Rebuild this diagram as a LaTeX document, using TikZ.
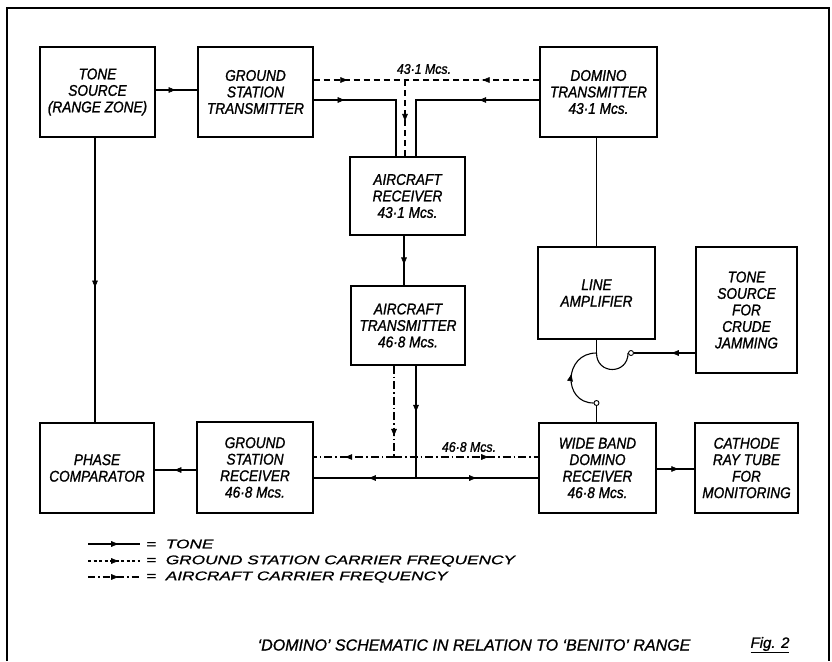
\documentclass[tikz,border=0pt]{standalone}
\usepackage{fontspec}
\setmainfont{Liberation Sans}
\newfontfamily\boxfont[FakeStretch=0.88,FakeBold=1.2]{Liberation Sans}
\newfontfamily\legfont[FakeStretch=1.38,FakeBold=1]{Liberation Sans}
\newfontfamily\titfont[FakeStretch=1.0,FakeBold=1]{Liberation Sans}
\usetikzlibrary{arrows.meta,decorations.markings}
\tikzset{
  blk/.style={draw, line width=1.4pt, align=center, inner sep=0pt,
    font=\boxfont\itshape\fontsize{15.5}{16.5}\selectfont},
  tone/.style={line width=1.1pt},
  gscar/.style={line width=1.1pt, dash pattern=on 6pt off 4pt},
  accar/.style={line width=1.1pt, dash pattern=on 8pt off 3pt on 1.5pt off 3pt},
  arrat/.style={postaction={decorate,decoration={markings,
    mark=at position #1 with {\arrow[line width=0.6pt]{Latex[length=8pt,width=6pt]}}}}},
  contact/.style={circle, draw, line width=0.9pt, fill=white, inner sep=0pt, minimum size=5pt},
  lbl/.style={font=\boxfont\itshape\fontsize{14}{15}\selectfont, inner sep=0pt},
  legtext/.style={font=\legfont\itshape\fontsize{12.5}{14}\selectfont, inner sep=0pt, anchor=west},
  frame/.style={line width=1.4pt}
}
\begin{document}
\begin{tikzpicture}[x=1pt,y=-1pt]
\useasboundingbox (0,0) rectangle (832,661);
\fill[white] (0,0) rectangle (832,661);
% frame
\coordinate (f1) at (7,661);
\coordinate (f2) at (7,8);
\coordinate (f3) at (829,8);
\coordinate (f4) at (829,661);
\draw[frame] (f1) -- (f2) -- (f3) -- (f4);

% boxes
\node[blk, minimum width=115pt, minimum height=90pt] (ts) at (97.5,92) {TONE\\SOURCE\\(RANGE ZONE)};
\node[blk, minimum width=115pt, minimum height=90pt] (gst) at (255.5,92) {GROUND\\STATION\\TRANSMITTER};
\node[blk, minimum width=117pt, minimum height=90pt] (dt) at (598.5,92) {DOMINO\\TRANSMITTER\\43·1 Mcs.};
\node[blk, minimum width=115pt, minimum height=78pt] (ar) at (407.5,196) {AIRCRAFT\\RECEIVER\\43·1 Mcs.};
\node[blk, minimum width=114pt, minimum height=79pt] (at) at (408,325.5) {AIRCRAFT\\TRANSMITTER\\46·8 Mcs.};
\node[blk, minimum width=117pt, minimum height=92pt] (la) at (596.5,293) {LINE\\AMPLIFIER};
\node[blk, minimum width=101pt, minimum height=126pt] (tsj) at (746.5,310) {TONE\\SOURCE\\FOR\\CRUDE\\JAMMING};
\node[blk, minimum width=114pt, minimum height=90pt] (pc) at (97,468) {PHASE\\COMPARATOR};
\node[blk, minimum width=116pt, minimum height=91pt] (gsr) at (255,467.5) {GROUND\\STATION\\RECEIVER\\46·8 Mcs.};
\node[blk, minimum width=117pt, minimum height=90pt] (wbr) at (597.5,468) {WIDE BAND\\DOMINO\\RECEIVER\\46·8 Mcs.};
\node[blk, minimum width=103pt, minimum height=90pt] (crt) at (746.5,468) {CATHODE\\RAY TUBE\\FOR\\MONITORING};

% top connections
\draw[tone,arrat=0.5] ([yshift=2pt]ts.east) -- ([yshift=2pt]ts.east -| gst.west);
\coordinate (jd) at (405,80);
\draw[gscar,arrat=0.38] (gst.east |- jd) -- (jd);
\draw[gscar,arrat=0.43] (dt.west |- jd) -- (jd);
\draw[gscar,arrat=0.55] (jd) -- (jd |- ar.north);
\coordinate (ja) at (396,100);
\coordinate (jb) at (416,100);
\draw[tone,arrat=0.23] (gst.east |- ja) -- (ja) -- (ja |- ar.north);
\draw[tone,arrat=0.34] (dt.west |- jb) -- (jb) -- (jb |- ar.north);
\node[lbl] (l431) at (424,69) {43·1 Mcs.};

% aircraft receiver to transmitter
\draw[tone,arrat=0.6] ([xshift=-3.5pt]ar.south) -- ([xshift=-3.5pt]ar.south |- at.north);

% aircraft transmitter outputs
\coordinate (jl) at (394,457);
\coordinate (jr) at (416,478);
\draw[accar,arrat=0.78] (jl |- at.south) -- (jl);
\draw[accar,arrat=0.62] (jl) -- (gsr.east |- jl);
\draw[accar,arrat=0.66] (jl) -- (wbr.west |- jl);
\draw[tone,arrat=0.42] (jr |- at.south) -- (jr);
\draw[tone,arrat=0.47] (jr) -- (gsr.east |- jr);
\draw[tone,arrat=0.5] (jr) -- (wbr.west |- jr);
\node[lbl] (l468) at (469,447) {46·8 Mcs.};

% other tone links
\draw[tone,arrat=0.55] ([yshift=-2.5pt]gsr.west) -- ([yshift=-2.5pt]gsr.west -| pc.east);
\draw[tone,arrat=0.6] ([yshift=-1pt]wbr.east) -- ([yshift=-1pt]wbr.east -| crt.west);
\draw[tone,arrat=0.53] ([xshift=-2.5pt]ts.south) -- ([xshift=-2.5pt]ts.south |- pc.north);
\draw[tone] (la.north) -- (la.north |- dt.south);

% switch
\node[contact] (c2) at (631,353) {};
\node[contact] (c1) at (596.5,403) {};
\coordinate (js) at (la.south |- c2);
\draw[tone] (la.south) -- (js);
\draw[tone] (js) .. controls +(0,22) and +(0,22) .. (c2.west);
\draw[tone,arrat=0.55] (c1.west) .. controls +(-31,0) and +(-33,0) .. (js);
\draw[tone] (c1.south) -- (c1 |- wbr.north);
\draw[tone,arrat=0.4] (tsj.west |- c2) -- (c2.east);

% legend
\coordinate (a1) at (88,544); \coordinate (b1) at (140,544);
\coordinate (a2) at (88,561); \coordinate (b2) at (140,561);
\coordinate (a3) at (88,577); \coordinate (b3) at (140,577);
\draw[tone,arrat=0.6] (a1) -- (b1);
\draw[gscar,dash pattern=on 3pt off 2.5pt,arrat=0.6] (a2) -- (b2);
\draw[accar,dash pattern=on 7pt off 3pt on 1.5pt off 3pt,arrat=0.6] (a3) -- (b3);
\node[legtext] (lg1) at (146,544) {= \ TONE};
\node[legtext] (lg2) at (146,561) {= \ GROUND STATION CARRIER FREQUENCY};
\node[legtext] (lg3) at (146,577) {= \ AIRCRAFT CARRIER FREQUENCY};

% title
\node[font=\titfont\itshape\fontsize{16}{18}\selectfont, inner sep=0pt] (title) at (474,645) {‘DOMINO’ SCHEMATIC IN RELATION TO ‘BENITO’ RANGE};
\node[font=\titfont\itshape\fontsize{15}{17}\selectfont, inner sep=0pt] (fig) at (770,645) {\underline{Fig. 2}};
\end{tikzpicture}
\end{document}
